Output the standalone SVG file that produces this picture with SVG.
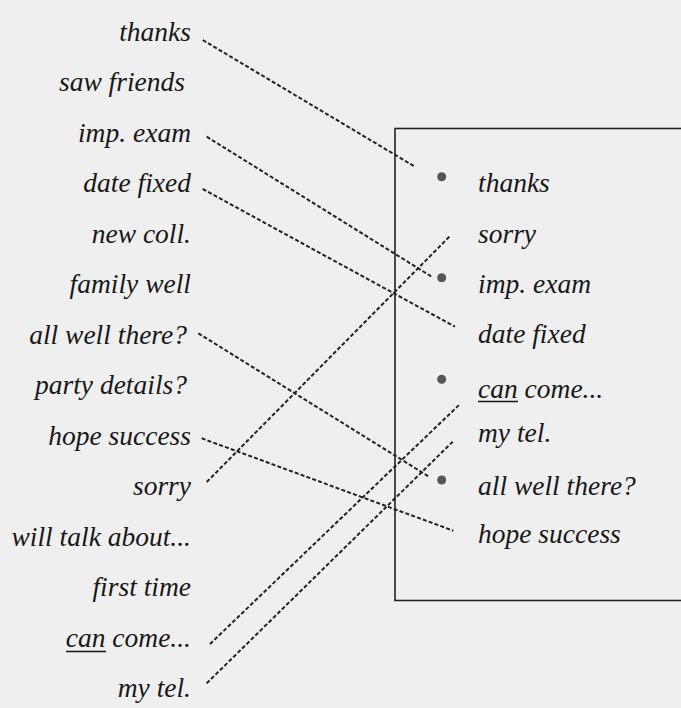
<svg xmlns="http://www.w3.org/2000/svg" width="681" height="708" viewBox="0 0 681 708">
<style>
  .t { font-family: "Liberation Serif", "DejaVu Serif", serif; font-style: italic; font-size: 27.5px; fill: #181818; }
  .l { text-anchor: end; }
  .c { stroke: #222; stroke-width: 2; stroke-dasharray: 4 2.2; fill: none; }
  .b { fill: #555; }
  .u { stroke: #181818; stroke-width: 1.7; }
</style>
<rect x="0" y="0" width="681" height="708" fill="#efefef"/>
<g id="box">
  <rect x="395" y="128.5" width="320" height="472" fill="none" stroke="#222" stroke-width="1.6"/>
</g>
<g id="left-list">
  <g id="l-thanks"><text class="t l" x="191" y="40.5">thanks</text></g>
  <g id="l-saw-friends"><text class="t l" x="185" y="91">saw friends</text></g>
  <g id="l-imp-exam"><text class="t l" x="191" y="141.5">imp. exam</text></g>
  <g id="l-date-fixed"><text class="t l" x="191" y="192">date fixed</text></g>
  <g id="l-new-coll"><text class="t l" x="191" y="242.5">new coll.</text></g>
  <g id="l-family-well"><text class="t l" x="191" y="293">family well</text></g>
  <g id="l-all-well-there"><text class="t l" x="187" y="343.5">all well there?</text></g>
  <g id="l-party-details"><text class="t l" x="187" y="394">party details?</text></g>
  <g id="l-hope-success"><text class="t l" x="191" y="444.5">hope success</text></g>
  <g id="l-sorry"><text class="t l" x="191" y="495">sorry</text></g>
  <g id="l-will-talk-about"><text class="t l" x="191" y="545.5">will talk about...</text></g>
  <g id="l-first-time"><text class="t l" x="191" y="596">first time</text></g>
  <g id="l-can-come"><text class="t l" x="191" y="646.5">can come...</text><line class="u" x1="66" y1="651.5" x2="106" y2="651.5"/></g>
  <g id="l-my-tel"><text class="t l" x="191" y="697">my tel.</text></g>
</g>
<g id="right-list">
  <g id="r-thanks"><circle class="b" cx="441.7" cy="176.7" r="4.5"/><text class="t" x="478" y="192">thanks</text></g>
  <g id="r-sorry"><text class="t" x="478" y="242.5">sorry</text></g>
  <g id="r-imp-exam"><circle class="b" cx="441.7" cy="277.7" r="4.5"/><text class="t" x="478" y="293">imp. exam</text></g>
  <g id="r-date-fixed"><text class="t" x="478" y="343">date fixed</text></g>
  <g id="r-can-come"><circle class="b" cx="441.7" cy="379.3" r="4.5"/><text class="t" x="478" y="398">can come...</text><line class="u" x1="478" y1="401.5" x2="518" y2="401.5"/></g>
  <g id="r-my-tel"><text class="t" x="478" y="442">my tel.</text></g>
  <g id="r-all-well-there"><circle class="b" cx="441.7" cy="480" r="4.5"/><text class="t" x="478" y="495">all well there?</text></g>
  <g id="r-hope-success"><text class="t" x="478" y="543">hope success</text></g>
</g>
<g id="connectors">
  <line class="c" x1="202.7" y1="40" x2="415" y2="166.7"/>
  <line class="c" x1="206.7" y1="136.7" x2="431.7" y2="276.7"/>
  <line class="c" x1="202.7" y1="189" x2="455" y2="326.7"/>
  <line class="c" x1="198.3" y1="333.3" x2="430" y2="477.3"/>
  <line class="c" x1="201.7" y1="438.3" x2="453.3" y2="530.7"/>
  <line class="c" x1="206.7" y1="482" x2="449.3" y2="236.7"/>
  <line class="c" x1="210" y1="644" x2="459" y2="405"/>
  <line class="c" x1="206.7" y1="683.3" x2="452.7" y2="441.7"/>
</g>
</svg>
